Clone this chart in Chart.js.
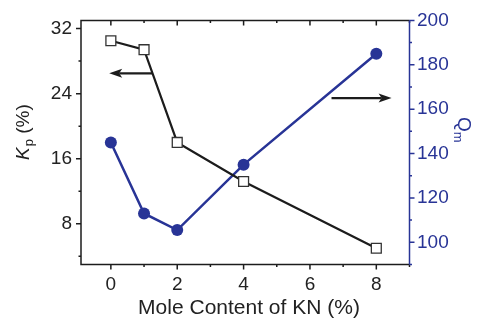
<!DOCTYPE html>
<html>
<head>
<meta charset="utf-8">
<script src="https://cdn.jsdelivr.net/npm/chart.js@4.4.1/dist/chart.umd.min.js"></script>
<style>
    html, body { margin: 0; padding: 0; background: #fff; }
    #wrap { width: 478px; height: 320px; }
</style>
</head>
<body>
<div id="wrap"><canvas id="chart" width="478" height="320"></canvas></div>
<script>
// data
const moleContent = [0, 1, 2, 4, 8];
const kpValues = [30.5, 29.4, 18.0, 13.2, 5.0];
const qmValues = [145, 113, 105.5, 135, 185];

// tick labels
const xTickLabels = [0, 2, 4, 6, 8];
const kpTickLabels = [8, 16, 24, 32];
const qmTickLabels = [100, 120, 140, 160, 180, 200];

const BLUE = 'rgb(40, 52, 150)';
const DARK = '#1c1c1c';
const FONT = "'Liberation Sans', Arial, sans-serif";

function toTicks(from, to, step) {
    const t = [];
    for (let v = from; v <= to + 1e-9; v += step) t.push({ value: v });
    return t;
}

// frame + tick marks (major long, minor short)
const framePlugin = {
    id: 'frame',
    beforeDatasetsDraw(chart) {
        const { ctx, chartArea: a, scales } = chart;
        ctx.save();
        ctx.lineWidth = 1.5;
        ctx.strokeStyle = DARK;
        ctx.beginPath();
        ctx.moveTo(a.right, a.top); ctx.lineTo(a.left, a.top);
        ctx.lineTo(a.left, a.bottom); ctx.lineTo(a.right, a.bottom);
        // bottom ticks (out) + top ticks (in)
        scales.x.ticks.forEach(t => {
            const px = scales.x.getPixelForValue(t.value);
            const len = xTickLabels.includes(t.value) ? 5 : 2.5;
            ctx.moveTo(px, a.bottom); ctx.lineTo(px, a.bottom + len);
            ctx.moveTo(px, a.top); ctx.lineTo(px, a.top + len);
        });
        // left ticks (out)
        scales.y.ticks.forEach(t => {
            const py = scales.y.getPixelForValue(t.value);
            const len = kpTickLabels.includes(t.value) ? 5 : 2.5;
            ctx.moveTo(a.left, py); ctx.lineTo(a.left - len, py);
        });
        ctx.stroke();
        // right axis in blue
        ctx.strokeStyle = BLUE;
        ctx.beginPath();
        ctx.moveTo(a.right, a.top); ctx.lineTo(a.right, a.bottom);
        scales.y1.ticks.forEach(t => {
            const py = scales.y1.getPixelForValue(t.value);
            const len = qmTickLabels.includes(t.value) ? 5 : 2.5;
            ctx.moveTo(a.right, py); ctx.lineTo(a.right + len, py);
        });
        ctx.stroke();
        ctx.restore();
    },
    afterDatasetsDraw(chart) {
        const { ctx, scales } = chart;
        // arrows pointing at the axis each series belongs to
        const arrows = [
            { from: 1.25, to: -0.05, y: scales.y.getPixelForValue(26.5) },
            { from: 6.65, to: 8.46, y: scales.y1.getPixelForValue(165) }
        ];
        ctx.save();
        ctx.strokeStyle = DARK;
        ctx.fillStyle = DARK;
        ctx.lineWidth = 2.2;
        arrows.forEach(ar => {
            const x0 = scales.x.getPixelForValue(ar.from);
            const x1 = scales.x.getPixelForValue(ar.to);
            const dir = Math.sign(x1 - x0);
            ctx.beginPath();
            ctx.moveTo(x0, ar.y); ctx.lineTo(x1 - dir * 10, ar.y);
            ctx.stroke();
            ctx.beginPath();
            ctx.moveTo(x1, ar.y);
            ctx.lineTo(x1 - dir * 13, ar.y - 4.5);
            ctx.lineTo(x1 - dir * 10, ar.y);
            ctx.lineTo(x1 - dir * 13, ar.y + 4.5);
            ctx.closePath();
            ctx.fill();
        });
        ctx.restore();
    },
    afterDraw(chart) {
        const { ctx } = chart;
        ctx.save();
        // x title
        ctx.fillStyle = '#222';
        ctx.font = '21px ' + FONT;
        ctx.textAlign = 'center';
        ctx.textBaseline = 'alphabetic';
        ctx.fillText('Mole Content of KN (%)', 249, 314);

        // left title: K_p (%)
        ctx.save();
        ctx.translate(29, 160);
        ctx.rotate(-Math.PI / 2);
        ctx.textAlign = 'left';
        ctx.font = 'italic 19px ' + FONT;
        ctx.fillText('K', 0, 0);
        let w = ctx.measureText('K').width;
        ctx.font = '13px ' + FONT;
        ctx.fillText('p', w + 1, 4);
        w += ctx.measureText('p').width + 1;
        ctx.font = '19px ' + FONT;
        ctx.fillText(' (%)', w, 0);
        ctx.restore();

        // right title: Q_m
        ctx.save();
        ctx.fillStyle = BLUE;
        ctx.translate(458, 117);
        ctx.rotate(Math.PI / 2);
        ctx.textAlign = 'left';
        ctx.font = '19px ' + FONT;
        ctx.fillText('Q', 0, 0);
        w = ctx.measureText('Q').width;
        ctx.font = '13px ' + FONT;
        ctx.fillText('m', w, 4);
        ctx.restore();

        ctx.restore();
    }
};

new Chart(document.getElementById('chart').getContext('2d'), {
    type: 'line',
    data: {
        datasets: [{
            label: 'Kp',
            data: moleContent.map((x, i) => ({ x: x, y: kpValues[i] })),
            yAxisID: 'y',
            borderColor: DARK,
            borderWidth: 2.2,
            pointStyle: 'rect',
            pointRadius: 7,
            pointBorderWidth: 1.3,
            pointBackgroundColor: '#fff',
            pointBorderColor: '#333',
            tension: 0,
            fill: false
        }, {
            label: 'Qm',
            data: moleContent.map((x, i) => ({ x: x, y: qmValues[i] })),
            yAxisID: 'y1',
            borderColor: BLUE,
            borderWidth: 2.5,
            pointStyle: 'circle',
            pointRadius: 6,
            pointBorderWidth: 0,
            pointBackgroundColor: BLUE,
            tension: 0,
            fill: false
        }]
    },
    options: {
        responsive: false,
        animation: false,
        events: [],
        layout: { padding: { top: 18.3, left: 0, right: 0, bottom: 0 } },
        plugins: { legend: { display: false }, tooltip: { enabled: false } },
        scales: {
            x: {
                type: 'linear',
                min: -0.9,
                max: 9,
                afterBuildTicks: s => { s.ticks = toTicks(0, 9, 1); },
                afterFit: s => { s.height = 55.5; },
                grid: { display: false, drawTicks: false },
                border: { display: false },
                ticks: {
                    padding: 9,
                    color: '#222',
                    font: { family: FONT, size: 19 },
                    maxRotation: 0,
                    autoSkip: false,
                    callback: v => xTickLabels.includes(v) ? String(v) : ''
                }
            },
            y: {
                position: 'left',
                min: 3,
                max: 33,
                afterBuildTicks: s => { s.ticks = toTicks(4, 32, 4); },
                afterFit: s => { s.width = 81; },
                grid: { display: false, drawTicks: false },
                border: { display: false },
                ticks: {
                    padding: 9,
                    color: '#222',
                    font: { family: FONT, size: 19 },
                    autoSkip: false,
                    callback: v => kpTickLabels.includes(v) ? String(v) : ''
                }
            },
            y1: {
                position: 'right',
                min: 90,
                max: 200,
                afterBuildTicks: s => { s.ticks = toTicks(90, 200, 10); },
                afterFit: s => { s.width = 68.5; },
                grid: { display: false, drawTicks: false },
                border: { display: false },
                ticks: {
                    padding: 7.5,
                    color: BLUE,
                    font: { family: FONT, size: 19 },
                    autoSkip: false,
                    callback: v => qmTickLabels.includes(v) ? String(v) : ''
                }
            }
        }
    },
    plugins: [framePlugin]
});
</script>
</body>
</html>
